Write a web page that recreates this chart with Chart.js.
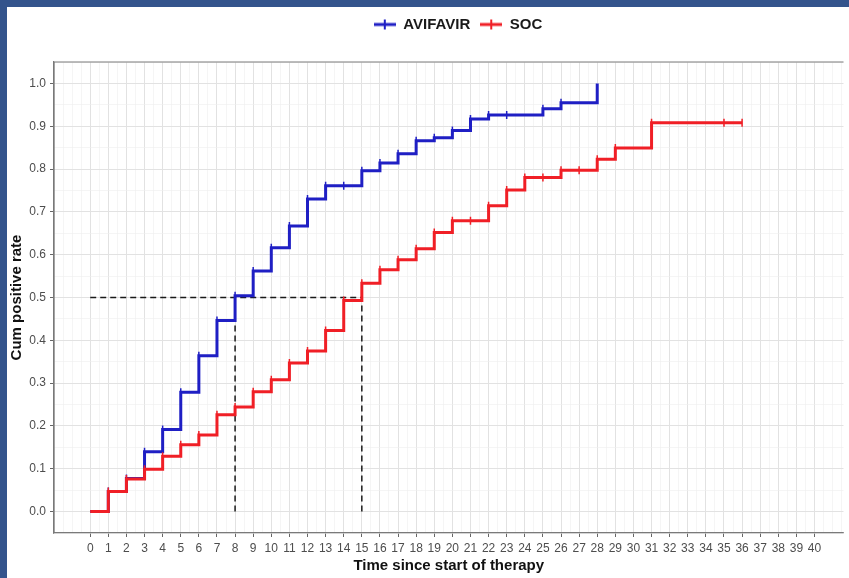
<!DOCTYPE html>
<html>
<head>
<meta charset="UTF-8">
<title>Cum positive rate</title>
<script src="https://cdn.jsdelivr.net/npm/chart.js"></script>
<style>
  html, body { margin: 0; padding: 0; background: #ffffff; overflow: hidden; }
  .frame {
    width: 842px;
    height: 571px;
    border-left: 7px solid #34548c;
    border-top: 7px solid #34548c;
    background: #ffffff;
  }
  .frame canvas { display: block; }
</style>
</head>
<body>
<div class="frame">
  <canvas id="kmChart" width="842" height="571"></canvas>
</div>
<script>
  // Kaplan-Meier style cumulative rate, one point per step / censor mark
  const seriesNames = ['AVIFAVIR', 'SOC'];
  const aviTimes = [0, 1, 2, 3, 4, 5, 6, 7, 8, 9, 10, 11, 12, 13, 14, 15, 16, 17, 18, 19, 20, 21, 22, 23, 25, 26, 28];
  const aviRate  = [0, 0.047, 0.077, 0.140, 0.192, 0.279, 0.364, 0.446, 0.504, 0.562, 0.616, 0.667, 0.730, 0.761, 0.761, 0.796, 0.814, 0.836, 0.866, 0.873, 0.890, 0.917, 0.926, 0.926, 0.941, 0.955, 1.0];
  const socTimes = [0, 1, 2, 3, 4, 5, 6, 7, 8, 9, 10, 11, 12, 13, 14, 15, 16, 17, 18, 19, 20, 21, 22, 23, 24, 25, 26, 27, 28, 29, 31, 35, 36];
  const socRate  = [0, 0.047, 0.076, 0.099, 0.129, 0.156, 0.179, 0.226, 0.244, 0.280, 0.308, 0.347, 0.375, 0.423, 0.493, 0.533, 0.565, 0.588, 0.614, 0.652, 0.679, 0.679, 0.714, 0.751, 0.780, 0.780, 0.797, 0.797, 0.823, 0.849, 0.908, 0.908, 0.908];

  // median guide lines
  const medianLevel = 0.5;
  const medianTimes = [8, 15];

  const xTicks = [0, 1, 2, 3, 4, 5, 6, 7, 8, 9, 10, 11, 12, 13, 14, 15, 16, 17, 18, 19, 20,
                  21, 22, 23, 24, 25, 26, 27, 28, 29, 30, 31, 32, 33, 34, 35, 36, 37, 38, 39, 40];
  const yTicks = [0, 0.1, 0.2, 0.3, 0.4, 0.5, 0.6, 0.7, 0.8, 0.9, 1.0];

  const colors = ['#1f1fc4', '#f01f26'];

  const toPoints = (xs, ys) => xs.map((x, i) => ({ x: x, y: ys[i] }));

  // little "line with a tick" legend key, like the plot's censor marks
  function legendKey(color) {
    const c = document.createElement('canvas');
    c.width = 22; c.height = 12;
    const g = c.getContext('2d');
    g.strokeStyle = color;
    g.lineWidth = 3;
    g.beginPath(); g.moveTo(0, 6); g.lineTo(22, 6); g.stroke();
    g.lineWidth = 2;
    g.beginPath(); g.moveTo(11, 1); g.lineTo(11, 11); g.stroke();
    return c;
  }

  // grid every half unit (major + minor lines)
  const gridTicks = (lo, hi, step) => {
    const out = [];
    const n = Math.round((hi - lo) / step);
    for (let i = 0; i <= n; i++) out.push({ value: +(lo + i * step).toFixed(3) });
    return out;
  };
  const isMajorX = v => xTicks.includes(v);
  const isMajorY = v => yTicks.some(t => Math.abs(t - v) < 1e-6);

  const stepSet = (name, pts, color, order) => ({
    label: name,
    data: pts,
    stepped: 'before',
    borderColor: color,
    backgroundColor: color,
    borderWidth: 3,
    pointStyle: 'line',
    rotation: 90,
    pointRadius: c => (c.raw.x === 0 || c.raw.y >= 1) ? 0 : 4,
    pointBorderWidth: 1.5,
    pointBorderColor: color,
    order: order
  });

  const guideSets = [
    { data: [{ x: 0, y: medianLevel }, { x: medianTimes[1], y: medianLevel }] }
  ].concat(medianTimes.map(t => ({ data: [{ x: t, y: 0 }, { x: t, y: medianLevel }] })))
   .map(d => Object.assign(d, {
      label: 'median',
      borderColor: '#1a1a1a',
      borderWidth: 1.5,
      borderDash: [6, 4],
      pointRadius: 0,
      order: 3
   }));

  const panelBorder = {
    id: 'panelBorder',
    afterDatasetsDraw(chart) {
      const a = chart.chartArea, ctx = chart.ctx;
      ctx.save();
      ctx.strokeStyle = '#7a7a7a';
      ctx.lineWidth = 1.2;
      ctx.beginPath();
      ctx.moveTo(a.left, a.bottom);
      ctx.lineTo(a.left, a.top);
      ctx.lineTo(a.right, a.top);
      ctx.stroke();
      ctx.restore();
    }
  };

  const legendFit = {
    id: 'legendFit',
    beforeInit(chart) {
      const fit = chart.legend.fit;
      chart.legend.fit = function () { fit.bind(chart.legend)(); this.height = 55; };
    },
    afterLayout(chart) {
      chart.legend.left += 30;
      chart.legend.right += 30;
    }
  };

  new Chart(document.getElementById('kmChart').getContext('2d'), {
    type: 'line',
    data: {
      datasets: [
        stepSet(seriesNames[0], toPoints(aviTimes, aviRate), colors[0], 2),
        stepSet(seriesNames[1], toPoints(socTimes, socRate), colors[1], 1)
      ].concat(guideSets)
    },
    options: {
      responsive: false,
      animation: false,
      layout: { padding: 0 },
      plugins: {
        tooltip: { enabled: false },
        legend: {
          position: 'top',
          labels: {
            usePointStyle: true,
            pointStyleWidth: 22,
            padding: 10,
            font: { family: "'Liberation Sans', Arial", size: 15, weight: 'bold' },
            color: '#1a1a1a',
            generateLabels: () => seriesNames.map((n, i) => ({
              text: n,
              pointStyle: legendKey(colors[i]),
              fontColor: '#1a1a1a',
              lineWidth: 0,
              datasetIndex: i
            }))
          }
        }
      },
      scales: {
        x: {
          type: 'linear',
          min: -2,
          max: 41.6,
          afterBuildTicks: s => { s.ticks = gridTicks(-1.5, 41.5, 0.5); },
          afterFit: s => { s.height = 45; },
          ticks: {
            autoSkip: false,
            maxRotation: 0,
            padding: 4,
            color: '#4d4d4d',
            font: { family: "'Liberation Sans', Arial", size: 12 },
            callback: v => isMajorX(v) ? String(v) : ''
          },
          grid: {
            color: c => isMajorX(c.tick.value) ? '#e2e2e2' : '#efefef',
            lineWidth: c => isMajorX(c.tick.value) ? 1 : 0.6,
            tickColor: c => isMajorX(c.tick.value) ? '#666666' : 'rgba(0,0,0,0)',
            tickLength: 4
          },
          border: { color: '#7a7a7a', width: 1.2 },
          title: {
            display: true,
            text: 'Time since start of therapy',
            color: '#111111',
            font: { family: "'Liberation Sans', Arial", size: 15, weight: 'bold' },
            padding: { top: 0, bottom: 3 }
          }
        },
        y: {
          type: 'linear',
          min: -0.05,
          max: 1.05,
          afterBuildTicks: s => { s.ticks = gridTicks(-0.05, 1.05, 0.05); },
          afterFit: s => { s.width = 47; },
          ticks: {
            autoSkip: false,
            padding: 4,
            color: '#4d4d4d',
            font: { family: "'Liberation Sans', Arial", size: 12 },
            callback: v => (isMajorY(v) && v >= 0) ? v.toFixed(1) : ''
          },
          grid: {
            color: c => isMajorY(c.tick.value) ? '#e2e2e2' : '#efefef',
            lineWidth: c => isMajorY(c.tick.value) ? 1 : 0.6,
            tickColor: c => isMajorY(c.tick.value) ? '#666666' : 'rgba(0,0,0,0)',
            tickLength: 4
          },
          border: { color: '#7a7a7a', width: 1.2 },
          title: {
            display: true,
            text: 'Cum positive rate',
            color: '#111111',
            font: { family: "'Liberation Sans', Arial", size: 15, weight: 'bold' },
            padding: { top: 1, bottom: 0 }
          }
        }
      }
    },
    plugins: [panelBorder, legendFit]
  });
</script>
</body>
</html>
